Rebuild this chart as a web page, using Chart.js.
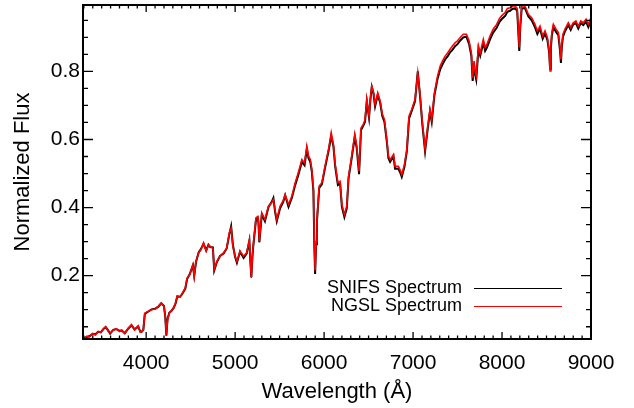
<!DOCTYPE html>
<html>
<head>
<meta charset="utf-8">
<script src="https://cdn.jsdelivr.net/npm/chart.js@4"></script>
<style>
  body { margin: 0; background: #fff; }
  canvas { display: block; }
</style>
</head>
<body>
<canvas id="spectrum" width="634" height="408"></canvas>
<script>
// wavelength grid (Angstrom)
let wavelengths = [
  3300, 3330, 3360, 3400, 3430, 3460, 3490, 3520, 3545, 3570,
  3595, 3630, 3665, 3700, 3725, 3760, 3800, 3835, 3870, 3910,
  3935, 3950, 3968, 3985, 4020, 4060, 4100, 4135, 4170, 4200,
  4215, 4227, 4240, 4260, 4285, 4310, 4330, 4350, 4380, 4400,
  4440, 4460, 4490, 4525, 4540, 4560, 4590, 4615, 4645, 4675,
  4700, 4720, 4750, 4765, 4795, 4830, 4870, 4905, 4935, 4955,
  4975, 5000, 5020, 5055, 5095, 5130, 5160, 5172, 5182, 5195,
  5206, 5235, 5255, 5262, 5272, 5300, 5335, 5375, 5410, 5430,
  5450, 5468, 5505, 5540, 5562, 5600, 5637, 5675, 5710, 5750,
  5780, 5806, 5825, 5845, 5862, 5880, 5890, 5899, 5910, 5920,
  5945, 5975, 6010, 6050, 6080, 6105, 6125, 6155, 6180, 6200,
  6228, 6255, 6275, 6310, 6345, 6367, 6393, 6415, 6440, 6460,
  6480, 6505, 6520, 6536, 6555, 6573, 6603, 6630, 6655, 6678,
  6705, 6723, 6742, 6780, 6798, 6835, 6855, 6873, 6903, 6930,
  6955, 6985, 7022, 7053, 7080, 7105, 7135, 7165, 7190, 7210,
  7240, 7275, 7305, 7330, 7360, 7390, 7416, 7445, 7472, 7500,
  7528, 7565, 7600, 7630, 7655, 7670, 7685, 7697, 7710, 7735,
  7755, 7790, 7810, 7830, 7865, 7900, 7940, 7970, 7995, 8035,
  8060, 8090, 8120, 8146, 8170, 8182, 8194, 8205, 8221, 8258,
  8295, 8333, 8370, 8397, 8427, 8457, 8483, 8510, 8530, 8540,
  8550, 8560, 8577, 8607, 8633, 8652, 8662, 8672, 8685, 8708,
  8745, 8772, 8800, 8830, 8857, 8885, 8913, 8944, 8970, 9000,
];

// NGSL spectrum (red)
let ngslFlux = [
  .015, .022, .020, .030, .026, .036, .033, .045, .050, .038,
  .031, .040, .044, .036, .040, .030, .046, .056, .041, .053,
  .034, .036, .040, .090, .095, .100, .102, .110, .120, .110,
  .080, .026, .070, .090, .098, .105, .120, .140, .137, .145,
  .164, .193, .203, .232, .198, .242, .267, .276, .296, .272,
  .290, .286, .281, .218, .242, .257, .267, .281, .326, .340,
  .286, .257, .242, .272, .257, .267, .306, .240, .193, .260,
  .296, .370, .374, .360, .301, .384, .365, .404, .414, .424,
  .390, .365, .404, .420, .438, .409, .433, .473, .502, .541,
  .531, .580, .551, .541, .512, .453, .300, .215, .300, .365,
  .463, .473, .521, .571, .620, .585, .526, .473, .477, .409,
  .379, .404, .492, .551, .615, .580, .507, .634, .644, .659,
  .718, .669, .720, .757, .740, .703, .737, .713, .674, .659,
  .600, .551, .541, .556, .521, .521, .510, .497, .526, .571,
  .669, .688, .718, .796, .727, .649, .571, .639, .688, .659,
  .737, .786, .816, .830, .845, .855, .865, .875, .884, .890,
  .899, .909, .909, .889, .855, .781, .830, .801, .786, .875,
  .855, .894, .870, .879, .904, .924, .938, .955, .963, .973,
  .985, .987, .992, .992, .985, .930, .870, .940, .992, .992,
  .968, .958, .938, .919, .933, .904, .919, .899, .860, .801,
  .880, .914, .938, .924, .914, .870, .835, .880, .909, .924,
  .943, .929, .943, .948, .933, .948, .943, .953, .938, .958,
];

// SNIFS spectrum (black)
let snifsFlux = [
  .016, .020, .022, .029, .028, .035, .034, .043, .049, .040,
  .030, .041, .043, .038, .039, .031, .045, .054, .042, .051,
  .035, .035, .041, .088, .094, .101, .103, .108, .119, .111,
  .078, .024, .072, .091, .097, .106, .118, .139, .138, .144,
  .162, .190, .205, .230, .200, .240, .268, .278, .294, .274,
  .291, .284, .283, .215, .240, .258, .265, .280, .322, .345,
  .290, .255, .238, .270, .252, .265, .302, .238, .196, .258,
  .292, .366, .370, .356, .298, .380, .360, .402, .416, .428,
  .386, .360, .398, .416, .436, .402, .428, .466, .496, .534,
  .524, .572, .545, .534, .506, .448, .290, .205, .292, .360,
  .458, .468, .516, .566, .610, .580, .520, .466, .470, .402,
  .372, .398, .486, .545, .608, .574, .498, .628, .640, .652,
  .712, .664, .716, .754, .735, .697, .731, .708, .668, .652,
  .594, .545, .534, .550, .514, .514, .503, .490, .520, .565,
  .662, .684, .712, .800, .722, .642, .565, .632, .682, .652,
  .730, .778, .806, .820, .835, .845, .856, .864, .874, .880,
  .890, .900, .902, .880, .846, .772, .822, .792, .776, .866,
  .846, .884, .860, .870, .894, .914, .928, .945, .953, .963,
  .975, .978, .984, .985, .978, .920, .860, .930, .985, .986,
  .962, .950, .930, .910, .926, .896, .912, .892, .855, .808,
  .872, .906, .930, .916, .906, .860, .825, .872, .902, .918,
  .936, .922, .938, .942, .926, .942, .936, .946, .930, .950,
];

let xTickValues = [4000, 5000, 6000, 7000, 8000, 9000];
let yTickValues = [0.2, 0.4, 0.6, 0.8];
let legendLabels = ["SNIFS Spectrum", "NGSL Spectrum"];

const FONT = "'Liberation Sans', Arial, Helvetica, sans-serif";

// IDL-style frame with inward ticks on all four sides + the legend
const frameTicks = {
  id: "frameTicks",
  afterDatasetsDraw(chart) {
    const { ctx, chartArea: a, scales } = chart;
    const xs = scales.x, ys = scales.y;
    ctx.save();
    ctx.strokeStyle = "#000";
    ctx.lineWidth = 1.3;
    ctx.beginPath();
    for (let w = 3300; w <= 9000; w += 100) {
      const px = xs.getPixelForValue(w);
      const len = w % 1000 === 0 ? 7 : 3.5;
      ctx.moveTo(px, a.bottom); ctx.lineTo(px, a.bottom - len);
      ctx.moveTo(px, a.top); ctx.lineTo(px, a.top + len);
    }
    for (let k = 1; k <= 19; k++) {
      const py = ys.getPixelForValue(k * 0.05);
      const len = k % 4 === 0 ? 10 : 5;
      ctx.moveTo(a.left, py); ctx.lineTo(a.left + len, py);
      ctx.moveTo(a.right, py); ctx.lineTo(a.right - len, py);
    }
    ctx.stroke();
    ctx.lineWidth = 2;
    ctx.strokeRect(a.left, a.top, a.right - a.left, a.bottom - a.top);

    // legend: text then line sample
    ctx.font = "18px " + FONT;
    ctx.fillStyle = "#000";
    ctx.textAlign = "right";
    ctx.textBaseline = "middle";
    const colors = ["#000000", "#ff0000"];
    const rows = [288, 306];
    legendLabels.forEach((lab, i) => {
      ctx.fillText(lab, 462, rows[i]);
      ctx.strokeStyle = colors[i];
      ctx.lineWidth = 1;
      ctx.beginPath();
      ctx.moveTo(474, rows[i] + 0.5);
      ctx.lineTo(562, rows[i] + 0.5);
      ctx.stroke();
    });
    ctx.restore();
  },
};

const canvas = document.getElementById("spectrum");

new Chart(canvas, {
  type: "line",
  data: {
    datasets: [
      {
        label: legendLabels[1],
        data: wavelengths.map((w, i) => ({ x: w, y: ngslFlux[i] })),
        borderColor: "#ff0000",
        borderWidth: 1.6,
        pointRadius: 0,
        tension: 0,
      },
      {
        label: legendLabels[0],
        data: wavelengths.map((w, i) => ({ x: w, y: snifsFlux[i] })),
        borderColor: "#000000",
        borderWidth: 2,
        pointRadius: 0,
        tension: 0,
      },
    ],
  },
  options: {
    responsive: false,
    animation: false,
    layout: {
      padding: { top: 5, right: 43, left: 0, bottom: 0 },
    },
    plugins: {
      legend: { display: false },
      tooltip: { enabled: false },
    },
    scales: {
      x: {
        type: "linear",
        min: 3290,
        max: 9000,
        grid: { display: false, drawTicks: false },
        border: { display: false },
        afterBuildTicks: (s) => { s.ticks = xTickValues.map((v) => ({ value: v })); },
        afterFit: (s) => {
          s.height = 69;
          s.paddingLeft = 0; s.paddingRight = 0;
        },
        ticks: {
          color: "#000",
          font: { family: FONT, size: 21 },
          padding: 12,
          maxRotation: 0,
          autoSkip: false,
          callback: (v) => String(v),
        },
        title: {
          display: true,
          text: "Wavelength (Å)",
          color: "#000",
          font: { family: FONT, size: 22 },
          padding: { top: 0, bottom: 3 },
        },
      },
      y: {
        type: "linear",
        min: 0.014,
        max: 0.995,
        grid: { display: false, drawTicks: false },
        border: { display: false },
        afterBuildTicks: (s) => { s.ticks = yTickValues.map((v) => ({ value: v })); },
        afterFit: (s) => {
          s.width = 83;
          s.paddingTop = 0; s.paddingBottom = 0;
        },
        ticks: {
          color: "#000",
          font: { family: FONT, size: 21 },
          padding: 3,
          autoSkip: false,
          callback: (v) => v.toFixed(1),
        },
        title: {
          display: true,
          text: "Normalized Flux",
          color: "#000",
          font: { family: FONT, size: 22 },
          padding: { top: 10, bottom: 0 },
        },
      },
    },
  },
  plugins: [frameTicks],
});
</script>
</body>
</html>
